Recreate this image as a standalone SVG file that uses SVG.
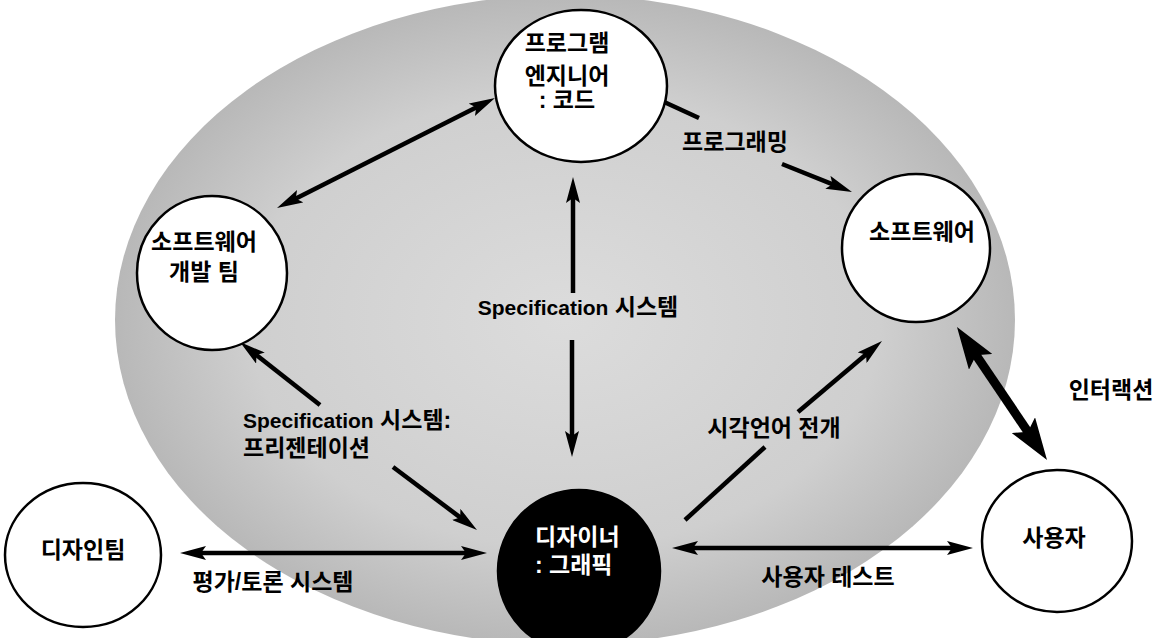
<svg xmlns="http://www.w3.org/2000/svg" width="1157" height="638" viewBox="0 0 1157 638">
<style>
  text { font-family: "Liberation Sans", "Noto Sans CJK KR", sans-serif; font-weight: bold; font-size: 23px; fill: #000; }
  .lat { font-size: 21px; }
  .node { fill: #fff; stroke: #000; stroke-width: 2.5; }
  .dark { fill: #000; stroke: #000; stroke-width: 2.5; }
  .wt { fill: #fff; }
  .c { text-anchor: middle; }
  .ln { fill: none; stroke: #000; stroke-width: 4.5; }
  .lnb { fill: none; stroke: #000; stroke-width: 9; }
</style>
<defs>
  <radialGradient id="bg" cx="0.5" cy="0.5" r="0.5">
    <stop offset="0" stop-color="#dcdcdc"/>
    <stop offset="0.7" stop-color="#cfcfcf"/>
    <stop offset="1" stop-color="#b8b8b8"/>
  </radialGradient>
  <marker id="ah" viewBox="0 0 26 14" refX="12" refY="7" markerWidth="26" markerHeight="14" markerUnits="userSpaceOnUse" orient="auto-start-reverse">
    <path d="M0,0 L26,7 L0,14 L5,7 z" fill="#000"/>
  </marker>
  <marker id="ahb" viewBox="0 0 42 28" refX="22" refY="14" markerWidth="42" markerHeight="28" markerUnits="userSpaceOnUse" orient="auto-start-reverse">
    <path d="M0,0 L42,14 L0,28 L8,14 z" fill="#000"/>
  </marker>
</defs>
<rect width="1157" height="638" fill="#fff"/>
<ellipse id="background" cx="565" cy="320" rx="450" ry="325" fill="url(#bg)"/>

<g id="connectors">
  <!-- engineer <-> team -->
  <path class="ln" d="M482.5,104.3 L289.5,201.7" marker-start="url(#ah)" marker-end="url(#ah)"/>
  <!-- engineer -> software (programming) -->
  <path class="ln" d="M662,101 L699,118"/>
  <path class="ln" d="M782,164 L839,186.8" marker-end="url(#ah)"/>
  <text x="735" y="150" class="c">프로그래밍</text>
  <!-- engineer <-> designer (Specification system) -->
  <path class="ln" d="M573,191 L573,293" marker-start="url(#ah)"/>
  <path class="ln" d="M572,340 L572,443" marker-end="url(#ah)"/>
  <text x="578" y="315" class="c"><tspan class="lat">Specification</tspan> 시스템</text>
  <!-- team <-> designer -->
  <path class="ln" d="M251,350.7 L320,405" marker-start="url(#ah)"/>
  <path class="ln" d="M393,467 L465.8,521.6" marker-end="url(#ah)"/>
  <text x="243" y="428"><tspan class="lat">Specification</tspan> 시스템:</text>
  <text x="243" y="456">프리젠테이션</text>
  <!-- designer -> software (visual language) -->
  <path class="ln" d="M685,520 L765,447"/>
  <path class="ln" d="M798,412 L871.3,350" marker-end="url(#ah)"/>
  <text x="774" y="436" class="c">시각언어 전개</text>
  <!-- design team <-> designer -->
  <path class="ln" d="M194,553 L473,553" marker-start="url(#ah)" marker-end="url(#ah)"/>
  <text x="273" y="590" class="c">평가/토론 시스템</text>
  <!-- designer <-> user -->
  <path class="ln" d="M686,548 L959,548" marker-start="url(#ah)" marker-end="url(#ah)"/>
  <text x="828" y="585" class="c">사용자 테스트</text>
  <!-- software <-> user (interaction) -->
  <path class="lnb" d="M968.2,343.6 L1035.8,443.4" marker-start="url(#ahb)" marker-end="url(#ahb)"/>
  <text x="1111" y="398" class="c">인터랙션</text>
</g>

<g id="node-engineer">
  <ellipse class="node" cx="581" cy="86" rx="86" ry="76"/>
  <text x="567" y="51" class="c">프로그램</text>
  <text x="567" y="84" class="c">엔지니어</text>
  <text x="567" y="108" class="c">: 코드</text>
</g>
<g id="node-team">
  <ellipse class="node" cx="212" cy="273" rx="75" ry="77"/>
  <text x="204" y="250" class="c">소프트웨어</text>
  <text x="204" y="280" class="c">개발 팀</text>
</g>
<g id="node-software">
  <ellipse class="node" cx="916" cy="248" rx="74" ry="74"/>
  <text x="922" y="240" class="c">소프트웨어</text>
</g>
<g id="node-designer">
  <ellipse class="dark" cx="579" cy="571" rx="81" ry="81"/>
  <text x="535" y="545" class="wt">디자이너</text>
  <text x="535" y="573" class="wt">: 그래픽</text>
</g>
<g id="node-designteam">
  <ellipse class="node" cx="83" cy="555" rx="78" ry="72"/>
  <text x="83" y="558" class="c">디자인팀</text>
</g>
<g id="node-user">
  <ellipse class="node" cx="1057" cy="541" rx="75" ry="71"/>
  <text x="1054" y="546" class="c">사용자</text>
</g>
</svg>
